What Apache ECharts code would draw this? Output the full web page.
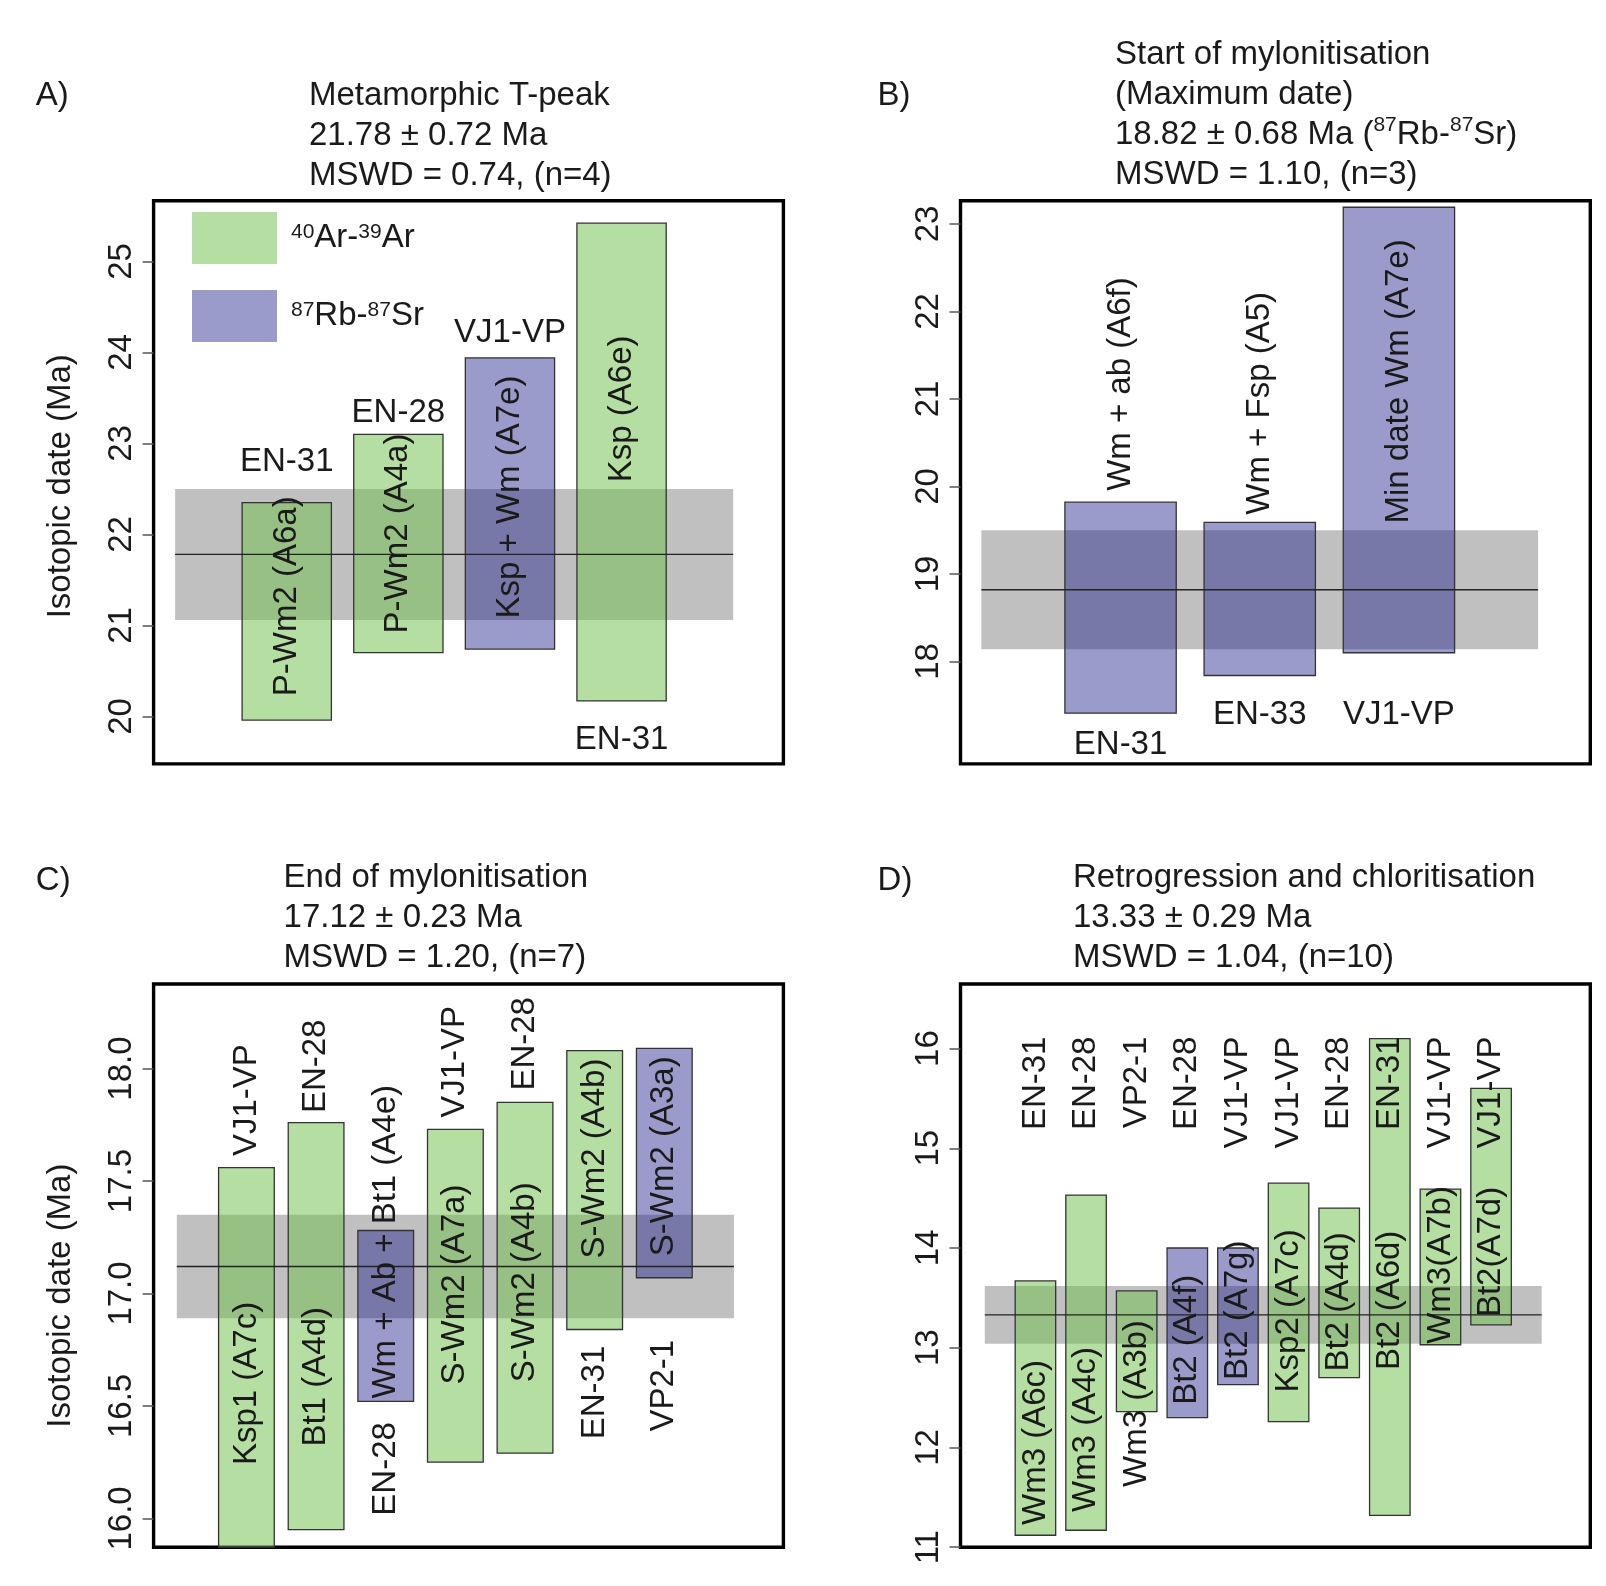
<!DOCTYPE html>
<html>
<head>
<meta charset="utf-8">
<script src="https://cdn.jsdelivr.net/npm/echarts@6/dist/echarts.min.js"></script>
<style>html,body{margin:0;padding:0;background:#fff}#c{width:1606px;height:1586px}</style>
</head>
<body>
<div id="c"></div>
<script>
// ---------------- data ----------------
const panelLetter = ['A)', 'B)', 'C)', 'D)'];
const panelTitle = ['Metamorphic T-peak', 'Start of mylonitisation\n(Maximum date)', 'End of mylonitisation', 'Retrogression and chloritisation'];
const meanAge = [21.78, 18.82, 17.12, 13.33];
const meanErr = [0.72, 0.68, 0.23, 0.29];
const meanMethodNote = ['', ' ({sup|87}Rb-{sup|87}Sr)', '', ''];
const mswd = ['0.74', '1.10', '1.20', '1.04'];
const nUsed = [4, 3, 7, 10];

const AR = '40Ar-39Ar';
const RB = '87Rb-87Sr';

// Panel A
const A_sample  = ['EN-31', 'EN-28', 'VJ1-VP', 'EN-31'];
const A_mineral = ['P-Wm2 (A6a)', 'P-Wm2 (A4a)', 'Ksp + Wm (A7e)', 'Ksp (A6e)'];
const A_method  = ['Ar', 'Ar', 'Rb', 'Ar'];
const A_low     = [19.96, 20.70, 20.74, 20.17];
const A_high    = [22.35, 23.10, 23.94, 25.42];
const A_sampleAt  = [22.80, 23.34, 24.21, 19.74];
const A_mineralAt = [21.32, 22.01, 22.41, 23.38];
const A_ticks = [20, 21, 22, 23, 24, 25];
const A_tickLabels = ['20', '21', '22', '23', '24', '25'];

// Panel B
const B_sample  = ['EN-31', 'EN-33', 'VJ1-VP'];
const B_mineral = ['Wm + ab (A6f)', 'Wm + Fsp (A5)', 'Min date Wm (A7e)'];
const B_method  = ['Rb', 'Rb', 'Rb'];
const B_low     = [17.41, 17.84, 18.10];
const B_high    = [19.82, 19.59, 23.19];
const B_sampleAt  = [17.05, 17.39, 17.39];
const B_mineralAt = [21.17, 20.95, 21.20];
const B_ticks = [18, 19, 20, 21, 22, 23];
const B_tickLabels = ['18', '19', '20', '21', '22', '23'];

// Panel C
const C_sample  = ['VJ1-VP', 'EN-28', 'EN-28', 'VJ1-VP', 'EN-28', 'EN-31', 'VP2-1'];
const C_mineral = ['Ksp1 (A7c)', 'Bt1 (A4d)', 'Wm + Ab + Bt1 (A4e)', 'S-Wm2 (A7a)', 'S-Wm2 (A4b)', 'S-Wm2 (A4b)', 'S-Wm2 (A3a)'];
const C_method  = ['Ar', 'Ar', 'Rb', 'Ar', 'Ar', 'Ar', 'Rb'];
const C_low     = [15.80, 15.95, 16.52, 16.25, 16.29, 16.84, 17.07];
const C_high    = [17.56, 17.76, 17.28, 17.73, 17.85, 18.08, 18.09];
const C_sampleAt  = [17.86, 18.01, 16.22, 18.03, 18.11, 16.56, 16.59];
const C_mineralAt = [16.60, 16.63, 17.23, 17.04, 17.05, 17.60, 17.61];
const C_ticks = [16.0, 16.5, 17.0, 17.5, 18.0];
const C_tickLabels = ['16.0', '16.5', '17.0', '17.5', '18.0'];

// Panel D
const D_sample  = ['EN-31', 'EN-28', 'VP2-1', 'EN-28', 'VJ1-VP', 'VJ1-VP', 'EN-28', 'EN-31', 'VJ1-VP', 'VJ1-VP'];
const D_mineral = ['Wm3 (A6c)', 'Wm3 (A4c)', 'Wm3 (A3b)', 'Bt2 (A4f)', 'Bt2 (A7g)', 'Ksp2 (A7c)', 'Bt2 (A4d)', 'Bt2 (A6d)', 'Wm3(A7b)', 'Bt2(A7d)'];
const D_method  = ['Ar', 'Ar', 'Ar', 'Rb', 'Rb', 'Ar', 'Ar', 'Ar', 'Ar', 'Ar'];
const D_low     = [11.12, 11.17, 12.36, 12.30, 12.63, 12.26, 12.70, 11.32, 13.03, 13.23];
const D_high    = [13.67, 14.53, 13.57, 14.00, 14.00, 14.65, 14.40, 16.10, 14.59, 15.60];
const D_sampleAt  = [16.12, 16.12, 16.12, 16.12, 16.12, 16.12, 16.12, 16.12, 16.12, 16.12];
const D_mineralAt = [12.05, 12.18, 12.44, 13.08, 13.375, 13.37, 13.46, 13.475, 13.83, 13.96];
const D_ticks = [11, 12, 13, 14, 15, 16];
const D_tickLabels = ['11', '12', '13', '14', '15', '16'];

// ---------------- layout / style ----------------
const FONT = '"Liberation Sans", Arial, Helvetica, sans-serif';
const INK = '#1a1a1a';
const FS = 33;
const GREEN = 'rgba(111,192,76,0.52)';
const PURPLE = 'rgba(31,33,139,0.45)';
const GW = 629.8, GH = 563.2;
const layout = [
  {left: 153.6, top: 200.7, xMin: -0.193, xMax: 5.45,  yMin: 19.478, yMax: 25.667, titleLeft: 309,  titleTop: 76,  letterLeft: 35.8,  letterTop: 76,
   sampleRot: false, sampleAlign: 'center', namePad: [0, 8, 0, 0]},
  {left: 960.5, top: 200.7, xMin: -0.15,  xMax: 4.375, yMin: 16.83,  yMax: 23.265, titleLeft: 1115, titleTop: 35,  letterLeft: 877.6, letterTop: 76,
   sampleRot: false, sampleAlign: 'center', namePad: 0},
  {left: 153.6, top: 984,   xMin: -0.333, xMax: 8.71,  yMin: 15.872, yMax: 18.376, titleLeft: 283.6, titleTop: 857.5, letterLeft: 35.8, letterTop: 861,
   sampleRot: true, sampleAlign: 'center', namePad: [0, 60, 0, 0]},
  {left: 960.5, top: 984,   xMin: -0.48,  xMax: 11.96, yMin: 11.0,   yMax: 16.647, titleLeft: 1073, titleTop: 857.5, letterLeft: 877.6, letterTop: 861,
   sampleRot: true, sampleAlign: 'right', namePad: 0}
];

const panels = [
  {sample: A_sample, mineral: A_mineral, method: A_method, low: A_low, high: A_high, sampleAt: A_sampleAt, mineralAt: A_mineralAt, ticks: A_ticks, tickLabels: A_tickLabels},
  {sample: B_sample, mineral: B_mineral, method: B_method, low: B_low, high: B_high, sampleAt: B_sampleAt, mineralAt: B_mineralAt, ticks: B_ticks, tickLabels: B_tickLabels},
  {sample: C_sample, mineral: C_mineral, method: C_method, low: C_low, high: C_high, sampleAt: C_sampleAt, mineralAt: C_mineralAt, ticks: C_ticks, tickLabels: C_tickLabels},
  {sample: D_sample, mineral: D_mineral, method: D_method, low: D_low, high: D_high, sampleAt: D_sampleAt, mineralAt: D_mineralAt, ticks: D_ticks, tickLabels: D_tickLabels}
];

const BAR_W = 0.8;

function barRender(params, api) {
  const x = api.value(0), lo = api.value(1), hi = api.value(2);
  const p0 = api.coord([x - BAR_W / 2, hi]);
  const p1 = api.coord([x + BAR_W / 2, lo]);
  const cs = params.coordSys;
  const rect = echarts.graphic.clipRectByRect(
    {x: p0[0], y: p0[1], width: p1[0] - p0[0], height: p1[1] - p0[1]},
    {x: cs.x, y: cs.y, width: cs.width, height: cs.height});
  if (!rect) return null;
  return {type: 'rect', shape: rect, style: {fill: api.visual('color'), stroke: '#333', lineWidth: 1.3}};
}

function labelSeries(i, xs, ys, texts, rotated, align, z) {
  return {
    type: 'custom', xAxisIndex: i, yAxisIndex: i, z: z, silent: true,
    data: xs.map((x, k) => [x, ys[k]]),
    renderItem: (params, api) => {
      const pt = api.coord([api.value(0), api.value(1)]);
      return {
        type: 'text', x: pt[0], y: pt[1], rotation: rotated ? Math.PI / 2 : 0,
        style: {text: texts[params.dataIndex], fontSize: FS, fontFamily: FONT, fill: INK,
                align: align, verticalAlign: 'middle'}
      };
    }
  };
}

const grids = [], xAxes = [], yAxes = [], series = [], titles = [];

panels.forEach((p, i) => {
  const L = layout[i];
  const n = p.low.length;
  grids.push({left: L.left, top: L.top, width: GW, height: GH, show: true, borderColor: '#000', borderWidth: 3.4, backgroundColor: 'transparent'});
  xAxes.push({type: 'value', gridIndex: i, min: L.xMin, max: L.xMax, show: false, axisLine: {onZero: false}});
  yAxes.push({
    type: 'value', gridIndex: i, min: L.yMin, max: L.yMax, position: 'left',
    axisLine: {show: false, onZero: false}, splitLine: {show: false},
    axisTick: {show: true, inside: false, length: 11, lineStyle: {color: '#555', width: 1.5}, customValues: p.ticks},
    axisLabel: {rotate: 90, margin: 15, fontSize: FS, fontFamily: FONT, color: INK, customValues: p.ticks,
      formatter: (v) => { const k = p.ticks.findIndex(t => Math.abs(t - v) < 1e-6); return k >= 0 ? p.tickLabels[k] : ''; }},
    name: (i % 2 === 0) ? 'Isotopic date (Ma)' : '', nameLocation: 'middle', nameRotate: 90, nameGap: 76,
    nameTextStyle: {fontSize: FS, fontFamily: FONT, color: INK, padding: L.namePad}
  });

  // weighted mean band
  series.push({
    type: 'custom', xAxisIndex: i, yAxisIndex: i, z: 1, silent: true,
    data: [[0, meanAge[i] - meanErr[i], n + 1, meanAge[i] + meanErr[i]]],
    renderItem: (params, api) => {
      const a = api.coord([api.value(0), api.value(3)]);
      const b = api.coord([api.value(2), api.value(1)]);
      return {type: 'rect', shape: {x: a[0], y: a[1], width: b[0] - a[0], height: b[1] - a[1]}, style: {fill: '#c0c0c0'}};
    }
  });

  // bars by method
  [['Ar', AR, GREEN], ['Rb', RB, PURPLE]].forEach(([m, name, col]) => {
    const data = [];
    p.method.forEach((mm, j) => { if (mm === m) data.push([j + 1, p.low[j], p.high[j]]); });
    series.push({type: 'custom', name: name, xAxisIndex: i, yAxisIndex: i, z: 2, silent: true,
      itemStyle: {color: col}, data: data, renderItem: barRender, encode: {x: 0, y: [1, 2]}});
  });

  // mean line
  series.push({
    type: 'custom', xAxisIndex: i, yAxisIndex: i, z: 3, silent: true,
    data: [[0, meanAge[i], n + 1]],
    renderItem: (params, api) => {
      const a = api.coord([api.value(0), api.value(1)]);
      const b = api.coord([api.value(2), api.value(1)]);
      return {type: 'line', shape: {x1: a[0], y1: a[1], x2: b[0], y2: b[1]}, style: {stroke: '#222', lineWidth: 1.3}};
    }
  });

  const xs = p.low.map((_, j) => j + 1);
  series.push(labelSeries(i, xs, p.sampleAt, p.sample, L.sampleRot, L.sampleAlign, 4));
  series.push(labelSeries(i, xs, p.mineralAt, p.mineral, true, 'center', 4));

  titles.push({text: panelLetter[i], left: L.letterLeft, top: L.letterTop, padding: 0,
    textStyle: {fontSize: FS, fontWeight: 'normal', fontFamily: FONT, color: INK, lineHeight: 40}});
  const t = panelTitle[i] + '\n' + meanAge[i].toFixed(2) + ' \u00b1 ' + meanErr[i].toFixed(2) + ' Ma' + meanMethodNote[i] +
            '\nMSWD = ' + mswd[i] + ', (n=' + nUsed[i] + ')';
  titles.push({text: t, left: L.titleLeft, top: L.titleTop, padding: 0,
    textStyle: {fontSize: FS, fontWeight: 'normal', fontFamily: FONT, color: INK, lineHeight: 40,
      rich: {sup: {fontSize: 21, lineHeight: 22, verticalAlign: 'top', fontFamily: FONT, color: INK}}}});
});

const chart = echarts.init(document.getElementById('c'), null, {renderer: 'canvas'});
chart.setOption({
  animation: false,
  backgroundColor: '#fff',
  title: titles,
  legend: {
    data: [AR, RB], orient: 'vertical', left: 192, top: 212, padding: 0, itemWidth: 85, itemHeight: 52, itemGap: 26,
    icon: 'rect', selectedMode: false, itemStyle: {borderWidth: 0},
    formatter: (name) => name === AR ? '{sup|40}Ar-{sup|39}Ar' : '{sup|87}Rb-{sup|87}Sr',
    textStyle: {fontSize: FS, fontFamily: FONT, color: INK, padding: [0, 0, 0, 9],
      rich: {sup: {fontSize: 21, lineHeight: 20, verticalAlign: 'top', fontFamily: FONT, color: INK}}}
  },
  grid: grids, xAxis: xAxes, yAxis: yAxes, series: series
});
</script>
</body>
</html>
